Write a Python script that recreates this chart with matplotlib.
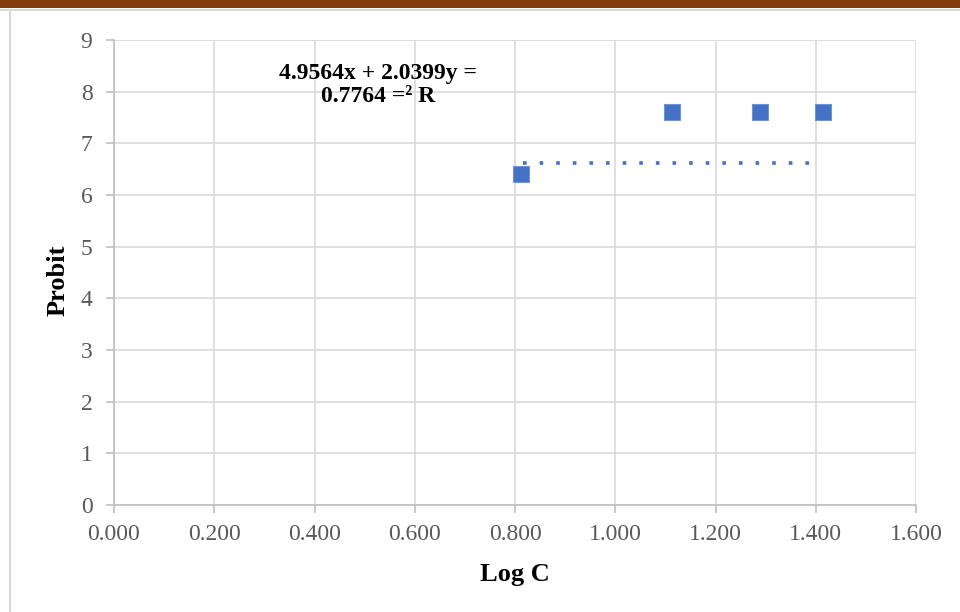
import matplotlib
matplotlib.use("Agg")
import matplotlib.pyplot as plt
from matplotlib.lines import Line2D
from matplotlib.patches import Rectangle

# Data
log_c = [0.812, 1.113, 1.289, 1.414]
probit = [6.41, 7.61, 7.61, 7.61]
trend_x = [0.815, 1.390]
trend_y = [6.61, 6.61]
x_ticks = [0.0, 0.2, 0.4, 0.6, 0.8, 1.0, 1.2, 1.4, 1.6]
y_ticks = [0, 1, 2, 3, 4, 5, 6, 7, 8, 9]
equation_text = "4.9564x + 2.0399y =\n0.7764 =² R"

plt.rcParams['font.family'] = ['Liberation Serif', 'DejaVu Serif']

fig = plt.figure(figsize=(9.6, 6.12), dpi=100)
fig.patch.set_facecolor('white')

# decorations: brown top bar, gray top line and left line
fig.add_artist(Rectangle((0, 1 - 8 / 612), 1, 8 / 612, transform=fig.transFigure,
                         facecolor='#843C0C', edgecolor='none'))
fig.add_artist(Line2D([0, 1], [1 - 10 / 612, 1 - 10 / 612], transform=fig.transFigure,
                      color='#D9D9D9', lw=1.5))
fig.add_artist(Line2D([10 / 960, 10 / 960], [0, 1 - 10 / 612], transform=fig.transFigure,
                      color='#D9D9D9', lw=1.5))

ax = fig.add_axes([114 / 960, 107 / 612, (916 - 114) / 960, (505 - 40) / 612])
ax.set_xlim(0, 1.6)
ax.set_ylim(0, 9)
ax.set_xticks(x_ticks)
ax.set_yticks(y_ticks)
ax.set_xticklabels([f"{v:.3f}" for v in x_ticks])
ax.set_yticklabels([str(v) for v in y_ticks])

ax.grid(True, color='#D9D9D9', lw=1.2)
ax.set_axisbelow(True)
for s in ['top', 'right']:
    ax.spines[s].set_visible(False)
for s in ['left', 'bottom']:
    ax.spines[s].set_color('#BFBFBF')
    ax.spines[s].set_linewidth(1.2)
ax.tick_params(axis='both', colors='#BFBFBF', labelcolor='#595959', labelsize=17,
               length=5.5, width=1.2, direction='out')
ax.tick_params(axis='x', pad=8)
ax.tick_params(axis='y', pad=10)

ax.plot(trend_x, trend_y, linestyle=(0, (1, 3.6)), color='#4472C4', lw=2.6,
        dash_capstyle='butt', zorder=3)
ax.plot(log_c, probit, linestyle='none', marker='s', markersize=11,
        markerfacecolor='#4472C4', markeredgecolor='#6F93D3', markeredgewidth=0.8,
        zorder=4, clip_on=False)

ax.set_xlabel("Log C", fontsize=19, fontweight='bold', labelpad=13)
ax.set_ylabel("Probit", fontsize=19, fontweight='bold', labelpad=8)
ax.yaxis.label.set_y(0.484)

fig.text(378 / 960, 1 - 85 / 612, equation_text, ha='center', va='center',
         fontsize=17, fontweight='bold', linespacing=1.15)

fig.savefig("out.png", dpi=100)
